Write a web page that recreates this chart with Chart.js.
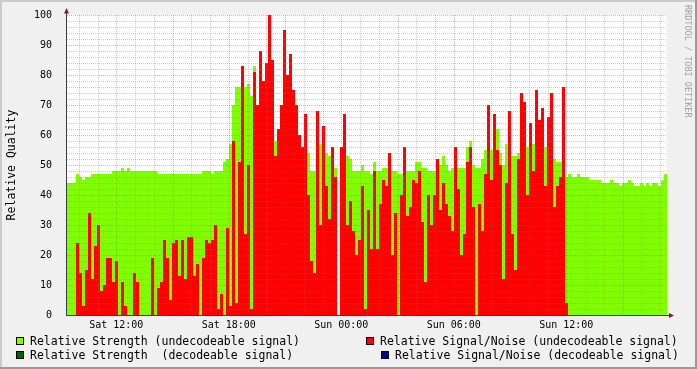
<!DOCTYPE html>
<html>
<head>
<meta charset="utf-8">
<title>Relative Quality</title>
<script src="https://cdn.jsdelivr.net/npm/chart.js@4.4.1/dist/chart.umd.min.js"></script>
<style>
  html, body { margin: 0; padding: 0; background: #f0f0f0; }
  #wrap { position: relative; width: 697px; height: 369px; overflow: hidden; }
  canvas { position: absolute; left: 0; top: 0; }
  .lg { position: absolute; font: 11.5px 'DejaVu Sans Mono', monospace; line-height: 14px; white-space: pre; color: #000; }
  .sw { position: absolute; width: 6px; height: 6px; border: 1px solid #000; }
  #mark { position: absolute; left: 683px; top: 5px; font: 8.5px 'DejaVu Sans Mono', monospace; line-height: 10px;
          color: #a0a0a0; writing-mode: vertical-rl; white-space: pre; }
</style>
</head>
<body>
<div id="wrap">
  <canvas id="chart" width="697" height="369"></canvas>
  <div class="sw" style="left:16px;top:337px;background:#80ff00"></div>
  <div class="lg" style="left:30px;top:334px">Relative Strength (undecodeable signal)</div>
  <div class="sw" style="left:16px;top:351px;background:#006400"></div>
  <div class="lg" style="left:30px;top:348px">Relative Strength  (decodeable signal)</div>
  <div class="sw" style="left:366px;top:337px;background:#ff0000"></div>
  <div class="lg" style="left:380px;top:334px">Relative Signal/Noise (undecodeable signal)</div>
  <div class="sw" style="left:381px;top:351px;background:#00008c"></div>
  <div class="lg" style="left:395px;top:348px">Relative Signal/Noise (decodeable signal)</div>
  <div id="mark">RRDTOOL / TOBI OETIKER</div>
</div>
<script>
// time axis in hours since Sat 00:00, one bin = 9.6 minutes
const binStart = 9.371;
const binHours = 0.16;

const tickHours = [12, 18, 24, 30, 36];
const tickLabels = ['Sat 12:00', 'Sat 18:00', 'Sun 00:00', 'Sun 06:00', 'Sun 12:00'];

const strengthUndecodeable = [
  44, 44, 44, 47, 46, 45, 46, 46, 47, 47,
  47, 47, 47, 47, 47, 48, 48, 48, 49, 48,
  49, 48, 48, 48, 48, 48, 48, 48, 48, 48,
  47, 47, 47, 47, 47, 47, 47, 47, 47, 47,
  47, 47, 47, 47, 47, 48, 48, 48, 47, 48,
  48, 48, 51, 52, 57, 70, 76, 76, 78, 76,
  77, 73, 83, 60, 60, 60, 60, 60, 60, 58,
  55, 55, 55, 55, 55, 55, 55, 55, 55, 57,
  54, 48, 48, 55, 57, 54, 54, 53, 51, 49,
  0, 49, 53, 53, 52, 48, 48, 48, 50, 48,
  48, 47, 51, 48, 48, 49, 49, 49, 48, 48,
  47, 47, 47, 48, 48, 48, 51, 51, 49, 49,
  48, 48, 48, 50, 50, 53, 50, 48, 49, 54,
  49, 49, 49, 56, 58, 50, 49, 49, 52, 55,
  57, 55, 62, 62, 54, 50, 57, 55, 53, 53,
  54, 55, 55, 56, 55, 57, 58, 55, 55, 56,
  55, 52, 52, 51, 51, 59, 46, 47, 46, 46,
  47, 46, 46, 46, 45, 45, 45, 45, 44, 44,
  44, 45, 44, 44, 43, 44, 44, 45, 44, 43,
  43, 44, 43, 44, 43, 44, 44, 43, 45, 47
];

const snrUndecodeable = [
  0, 0, 0, 24, 14, 3, 15, 34, 12, 23,
  30, 8, 10, 19, 19, 11, 18, 0, 11, 3,
  0, 0, 14, 11, 0, 0, 0, 0, 19, 0,
  9, 11, 25, 19, 5, 24, 25, 13, 25, 12,
  26, 26, 13, 17, 0, 19, 25, 24, 25, 30,
  2, 7, 0, 29, 3, 58, 4, 51, 83, 27,
  50, 2, 81, 70, 88, 78, 84, 100, 85, 53,
  62, 70, 95, 80, 87, 75, 70, 60, 56, 67,
  40, 18, 14, 68, 30, 63, 43, 32, 56, 46,
  0, 56, 67, 30, 38, 28, 20, 25, 43, 2,
  35, 22, 48, 22, 37, 45, 43, 54, 20, 34,
  0, 40, 56, 33, 36, 45, 44, 48, 31, 11,
  40, 30, 40, 52, 35, 44, 37, 33, 28, 56,
  42, 20, 27, 51, 56, 36, 0, 37, 28, 47,
  70, 45, 67, 55, 50, 12, 44, 68, 27, 15,
  52, 74, 71, 40, 64, 48, 75, 65, 69, 43,
  66, 74, 36, 43, 46, 76, 4, 0, 0, 0,
  0, 0, 0, 0, 0, 0, 0, 0, 0, 0,
  0, 0, 0, 0, 0, 0, 0, 0, 0, 0,
  0, 0, 0, 0, 0, 0, 0, 0, 0, 0
];

const times = strengthUndecodeable.map((_, i) => binStart + (i + 0.5) * binHours);
const binEnd = binStart + strengthUndecodeable.length * binHours;

const monoFont = 'DejaVu Sans Mono';
const minorGrid = 'rgba(128, 128, 128, 0.4)';
const majorGrid = 'rgba(210, 60, 60, 0.4)';

// rrdtool look: grey frame, white canvas, dotted grid over the data, arrows on the axes
const rrdFrame = {
  id: 'rrdFrame',
  beforeDraw(chart) {
    const { ctx, width, height, chartArea: a } = chart;
    ctx.save();
    ctx.fillStyle = '#f0f0f0';
    ctx.fillRect(0, 0, width, height);
    ctx.fillStyle = '#cbcbcb';
    ctx.fillRect(0, 0, width, 2);
    ctx.fillRect(0, 0, 2, height);
    ctx.fillStyle = '#999999';
    ctx.fillRect(0, height - 2, width, 2);
    ctx.fillRect(width - 2, 0, 2, height);
    ctx.fillStyle = '#ffffff';
    ctx.fillRect(a.left, a.top, a.right - a.left, a.bottom - a.top);
    ctx.restore();
  },
  afterDatasetsDraw(chart) {
    const { ctx, chartArea: a, scales: { x, y } } = chart;
    ctx.save();
    ctx.lineWidth = 1;
    ctx.setLineDash([1, 1]);
    for (let v = 2; v <= 100; v += 2) {
      const py = Math.round(y.getPixelForValue(v)) + 0.5;
      ctx.strokeStyle = v % 10 === 0 ? majorGrid : minorGrid;
      ctx.beginPath();
      ctx.moveTo(a.left, py);
      ctx.lineTo(a.right, py);
      ctx.stroke();
    }
    for (let h = Math.ceil(x.min); h <= x.max; h++) {
      const px = Math.round(x.getPixelForValue(h)) + 0.5;
      ctx.strokeStyle = h % 3 === 0 ? majorGrid : minorGrid;
      ctx.beginPath();
      ctx.moveTo(px, a.top);
      ctx.lineTo(px, a.bottom);
      ctx.stroke();
    }
    ctx.setLineDash([]);
    ctx.strokeStyle = '#3c3c4c';
    ctx.beginPath();
    ctx.moveTo(a.left - 0.5, a.bottom + 1);
    ctx.lineTo(a.left - 0.5, a.top - 2);
    ctx.moveTo(a.left - 1, a.bottom + 0.5);
    ctx.lineTo(a.right + 2, a.bottom + 0.5);
    ctx.stroke();
    ctx.fillStyle = '#7f1f1f';
    ctx.beginPath();
    ctx.moveTo(a.left - 0.5, a.top - 7);
    ctx.lineTo(a.left - 3, a.top - 1.5);
    ctx.lineTo(a.left + 2, a.top - 1.5);
    ctx.closePath();
    ctx.fill();
    ctx.beginPath();
    ctx.moveTo(a.right + 7, a.bottom + 0.5);
    ctx.lineTo(a.right + 2, a.bottom - 2);
    ctx.lineTo(a.right + 2, a.bottom + 3);
    ctx.closePath();
    ctx.fill();
    ctx.restore();
  }
};

new Chart(document.getElementById('chart'), {
  type: 'bar',
  data: {
    labels: times,
    datasets: [
      {
        label: 'Relative Signal/Noise (undecodeable signal)',
        data: snrUndecodeable,
        backgroundColor: '#ff0000',
        order: 0
      },
      {
        label: 'Relative Strength (undecodeable signal)',
        data: strengthUndecodeable,
        backgroundColor: '#80ff00',
        order: 1
      }
    ]
  },
  options: {
    responsive: false,
    animation: false,
    layout: { padding: { left: 0, top: 15, right: 30, bottom: 34 } },
    datasets: {
      bar: { grouped: false, barPercentage: 1, categoryPercentage: 1, borderWidth: 0, inflateAmount: 0 }
    },
    plugins: {
      legend: { display: false },
      tooltip: { enabled: false }
    },
    scales: {
      x: {
        type: 'linear',
        min: binStart,
        max: binEnd,
        offset: false,
        grid: { display: false, offset: false },
        border: { display: false },
        afterBuildTicks: s => { s.ticks = tickHours.map(v => ({ value: v })); },
        afterFit: s => { s.height = 20; },
        ticks: {
          autoSkip: false,
          maxRotation: 0,
          padding: -4,
          color: '#000',
          font: { family: monoFont, size: 10 },
          callback: v => tickLabels[tickHours.indexOf(v)]
        }
      },
      y: {
        min: 0,
        max: 100,
        grid: { display: false },
        border: { display: false },
        afterFit: s => { s.width = 67; },
        ticks: {
          stepSize: 10,
          padding: 7,
          color: '#000',
          font: { family: monoFont, size: 10 }
        },
        title: {
          display: true,
          text: 'Relative Quality',
          color: '#000',
          font: { family: monoFont, size: 11.5 },
          padding: { top: 5, bottom: 0 }
        }
      }
    }
  },
  plugins: [rrdFrame]
});
</script>
</body>
</html>
